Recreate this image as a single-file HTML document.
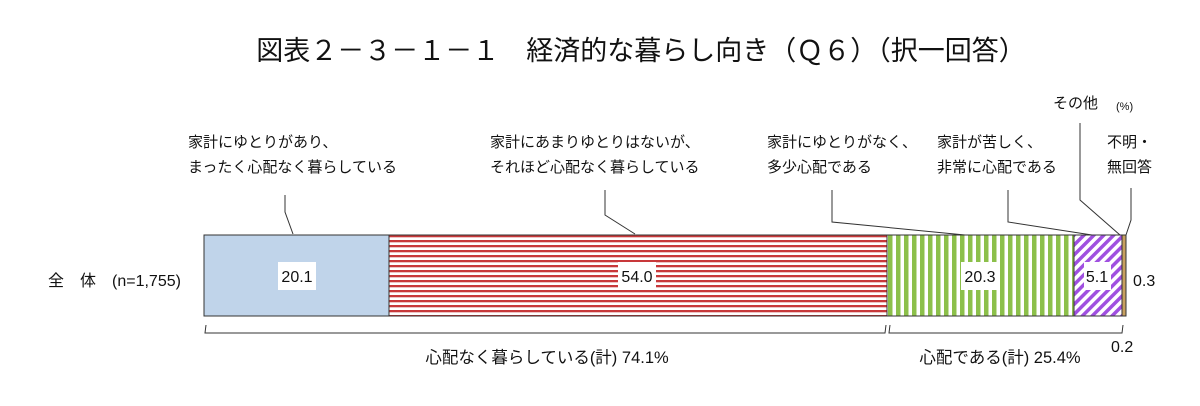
<!DOCTYPE html>
<html><head><meta charset="utf-8"><style>body{margin:0;background:#fff}svg{display:block}text{font-family:"Liberation Sans","Noto Sans CJK JP",sans-serif;fill:#111}</style></head>
<body>
<svg width="1200" height="406" viewBox="0 0 1200 406" xmlns="http://www.w3.org/2000/svg">
<defs>
<pattern id="red" width="10" height="5" patternUnits="userSpaceOnUse"><rect width="10" height="5" fill="#fff"/><rect y="0" width="10" height="2.3" fill="#c8383a"/></pattern>
<pattern id="grn" width="8" height="10" patternUnits="userSpaceOnUse"><rect width="8" height="10" fill="#fff"/><rect x="0" width="4.5" height="10" fill="#8cc04a"/></pattern>
<pattern id="pur" width="7" height="7" patternUnits="userSpaceOnUse" patternTransform="rotate(45)"><rect width="7" height="7" fill="#fff"/><rect width="3.5" height="7" fill="#a050e0"/></pattern>
</defs>
<text x="641" y="60" font-size="27" text-anchor="middle">図表２－３－１－１　経済的な暮らし向き（Ｑ６）（択一回答）</text>
<g font-size="15">
<text x="188" y="147">家計にゆとりがあり、</text><text x="188" y="172">まったく心配なく暮らしている</text>
<text x="490" y="147">家計にあまりゆとりはないが、</text><text x="490" y="172">それほど心配なく暮らしている</text>
<text x="767" y="147">家計にゆとりがなく、</text><text x="767" y="172">多少心配である</text>
<text x="937" y="147">家計が苦しく、</text><text x="937" y="172">非常に心配である</text>
<text x="1107" y="147">不明・</text><text x="1107" y="172">無回答</text>
<text x="1053" y="108">その他</text>
<text x="1116" y="110" font-size="11">(%)</text>
<text x="48" y="286" font-size="16">全　体　(n=1,755)</text>
<text x="547" y="363" text-anchor="middle" font-size="16.5">心配なく暮らしている(計) 74.1%</text>
<text x="1000" y="363" text-anchor="middle" font-size="16.5">心配である(計) 25.4%</text>
<text x="1111" y="352" font-size="16">0.2</text>
<text x="1133" y="286" font-size="16">0.3</text>
</g>
<g stroke="#333" fill="none" stroke-width="1">
<polyline points="285,195 285,212 293,234"/>
<polyline points="605,190 605,215 635,234"/>
<polyline points="832,190 832,222 965,235"/>
<polyline points="1008,190 1008,222 1092,235"/>
<polyline points="1080,123 1080,200 1120,235"/>
<polyline points="1131,188 1131,220 1126,235"/>
<polyline points="206,325 205,333 885,333 886,325"/>
<polyline points="890,325 889,333 1122,333 1123,325"/>
</g>
<rect x="204" y="235" width="185" height="81" fill="#c0d4ea" stroke="#333"/>
<rect x="389" y="235" width="498" height="81" fill="url(#red)" stroke="#333"/>
<rect x="887" y="235" width="187" height="81" fill="url(#grn)" stroke="#333"/>
<rect x="1074" y="235" width="48" height="81" fill="url(#pur)" stroke="#333"/>
<rect x="1122" y="235" width="4" height="81" fill="#c8a060" stroke="#333"/>
<g font-size="16" text-anchor="middle">
<rect x="278" y="262" width="38" height="28" fill="#fff"/><text x="297" y="282">20.1</text>
<rect x="618" y="262" width="38" height="28" fill="#fff"/><text x="637" y="282">54.0</text>
<rect x="961" y="262" width="38" height="28" fill="#fff"/><text x="980" y="282">20.3</text>
<rect x="1084" y="262" width="27" height="28" fill="#fff"/><text x="1097" y="282">5.1</text>
</g>
</svg>
</body></html>
